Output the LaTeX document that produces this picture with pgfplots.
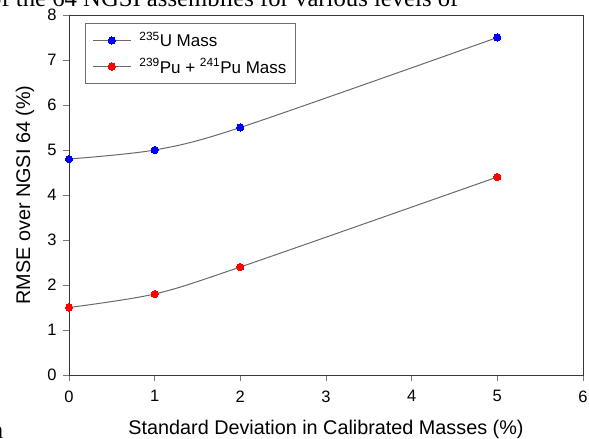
\documentclass[border=0pt]{standalone}
\usepackage{fontspec}
\setmainfont{Liberation Sans}
\newfontfamily\captionserif{Liberation Serif}
\usepackage{pgfplots}
\pgfplotsset{compat=1.18}
\definecolor{linegray}{RGB}{105,105,105}
\definecolor{axgray}{RGB}{55,55,55}
\definecolor{tickgray}{RGB}{120,120,120}
\definecolor{legframe}{RGB}{110,110,110}
\begin{document}
\begin{tikzpicture}[x=1pt,y=1pt]
\useasboundingbox (0,0) rectangle (589,439);
\clip (0,0) rectangle (589,439);
% surrounding caption text, cut by the frame
\node[anchor=base west, inner sep=0, font=\captionserif\fontsize{24.7}{25}\selectfont] at (-11,432.3) {of the 64 NGSI assemblies for various levels of};
\node[anchor=base east, inner sep=0, font=\captionserif\fontsize{24.7}{25}\selectfont] at (3.5,0) {n};
\begin{axis}[
  at={(69pt,64pt)}, anchor=south west,
  scale only axis, width=514pt, height=360pt,
  xmin=0, xmax=6, ymin=0, ymax=8,
  xtick={0,...,6}, ytick={0,...,8},
  tick align=outside, tick pos=left,
  major tick length=6pt,
  every tick/.style={tickgray, line width=0.8pt},
  axis line style={axgray, line width=0.9pt},
  /pgf/number format/assume math mode=true,
  ticklabel style={font=\fontsize{16.5}{18}\selectfont},
  yticklabel style={xshift=-3pt},
  xticklabel style={yshift=-6pt},
  xlabel={Standard Deviation in Calibrated Masses (\%)},
  ylabel={RMSE over NGSI 64 (\%)},
  label style={font=\fontsize{19.8}{22}\selectfont},
  xlabel style={at={([yshift=-59pt]axis description cs:0.5,0)}, anchor=base},
  ylabel style={at={([xshift=-39pt]axis description cs:0,0.5)}, anchor=base, rotate=0},
  legend style={at={(0,1)}, anchor=north west, xshift=16pt, yshift=-8pt,
    draw=legframe, line width=0.8pt, font=\fontsize{17}{19}\selectfont,
    cells={anchor=west}, inner xsep=7pt, inner ysep=7pt, row sep=6pt,
    /tikz/every odd column/.append style={column sep=6pt}},
  legend image code/.code={\draw[mark repeat=2,mark phase=2,#1] plot coordinates {(0pt,0pt)(19pt,0pt)(38pt,0pt)};},
]
\addplot[linegray, line width=1pt, smooth, mark=*, mark size=3.6pt,
  mark options={draw=blue, fill=blue, line width=0pt}]
  coordinates {(0,4.8)(1,5.0)(2,5.5)(5,7.5)};
\addlegendentry{\textsuperscript{235}U Mass}
\addplot[linegray, line width=1pt, smooth, mark=*, mark size=3.6pt,
  mark options={draw=red, fill=red, line width=0pt}]
  coordinates {(0,1.5)(1,1.8)(2,2.4)(5,4.4)};
\addlegendentry{\textsuperscript{239}Pu + \textsuperscript{241}Pu Mass}
\end{axis}
\end{tikzpicture}
\end{document}
